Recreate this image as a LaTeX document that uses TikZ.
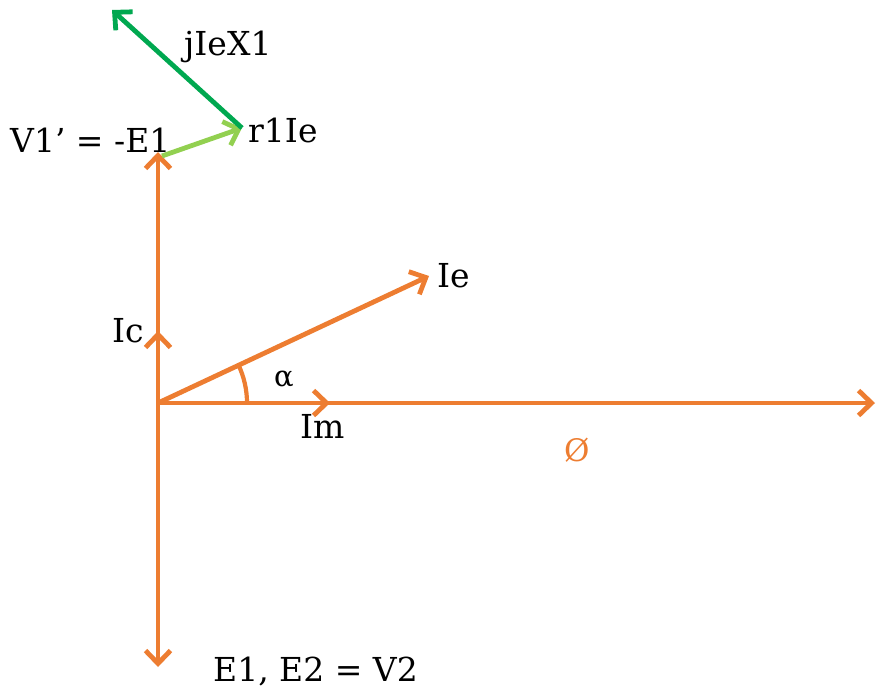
\documentclass[tikz,border=0pt]{standalone}
\usepackage{fontspec}
\setmainfont{DejaVu Serif}
\usetikzlibrary{arrows.meta}
\definecolor{vorange}{RGB}{237,125,49}
\definecolor{dgreen}{RGB}{0,168,80}
\definecolor{lgreen}{RGB}{146,208,80}
\tikzset{
  phasor/.style={line width=4.8pt, -{Straight Barb[length=13pt 0, width=25pt 0]}},
  lbl/.style={inner sep=0pt, anchor=base west, font=\fontsize{33}{38}\selectfont},
}
\begin{document}
\begin{tikzpicture}[x=1pt,y=-1pt]
\useasboundingbox (0,0) rectangle (877,688);
\coordinate (O) at (158,403);
\coordinate (V) at (158,152);
\coordinate (Ic) at (158,331);
\coordinate (E) at (158,667);
\coordinate (Im) at (330,403);
\coordinate (Phi) at (875,403);
\coordinate (Ie) at (429,276);
\coordinate (Vs) at (162,156);
\coordinate (R) at (242,128);
\coordinate (J) at (112,10);
% orange phasors
\draw[phasor, vorange] (O) -- (Phi);
\draw[phasor, vorange] (O) -- (E);
\draw[phasor, vorange] (O) -- (V);
\draw[phasor, vorange] (O) -- (Ic);
\draw[phasor, vorange] (O) -- (Im);
\draw[phasor, vorange] (O) -- (Ie);
\draw[vorange, line width=4.2pt] (O) ++(89,0) arc[start angle=0, end angle=-25.4, radius=89];
% green phasors
\draw[phasor, lgreen] (Vs) -- (R);
\draw[phasor, dgreen] (R) -- (J);
% labels
\node[lbl] (tV) at (10,152) {V1’ = -E1};
\node[lbl] (tr) at (248,142) {r1Ie};
\node[lbl] (tj) at (184,55) {jIeX1};
\node[lbl] (tIe) at (437,287) {Ie};
\node[lbl] (tIc) at (112,342) {Ic};
\node[lbl, font=\fontsize{29}{34}\selectfont] (ta) at (274,386) {α};
\node[lbl] (tIm) at (300,438) {Im};
\node[lbl, text=vorange, font=\fontsize{31}{36}\selectfont] (tphi) at (564,461) {Ø};
\node[lbl] (tE) at (213,681) {E1, E2 = V2};
\end{tikzpicture}
\end{document}
